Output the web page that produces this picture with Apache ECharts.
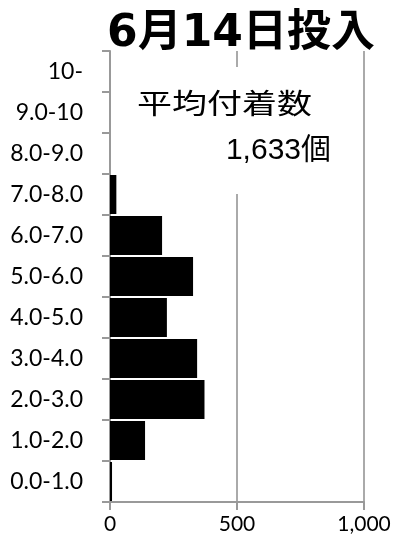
<!DOCTYPE html>
<html>
<head>
<meta charset="utf-8">
<script src="https://cdn.jsdelivr.net/npm/echarts@6/dist/echarts.min.js"></script>
<style>html,body{margin:0;padding:0;background:#fff;}#c{width:396px;height:548px;}</style>
</head>
<body>
<div id="c"></div>
<script>
const categories = ['0.0-1.0','1.0-2.0','2.0-3.0','3.0-4.0','4.0-5.0','5.0-6.0','6.0-7.0','7.0-8.0','8.0-9.0','9.0-10','10-'];
const counts = [8, 138, 372, 343, 224, 327, 205, 25, 0, 0, 0];
const xTicks = [0, 500, 1000];
const titleText = '6月14日投入';
const noteLine1 = '平均付着数';
const noteLine2 = '1,633個';

const chart = echarts.init(document.getElementById('c'), null, {renderer: 'canvas'});
chart.setOption({
  backgroundColor: '#fff',
  animation: false,
  title: {
    text: titleText,
    left: 236, top: 8, textAlign: 'center',
    textStyle: {fontFamily: 'DejaVu Sans, Noto Sans CJK JP', fontWeight: 'bold', fontSize: 44, color: '#000'}
  },
  grid: {left: 110, right: 32, top: 51, bottom: 46, containLabel: false},
  xAxis: {
    type: 'value', min: xTicks[0], max: xTicks[xTicks.length - 1], interval: 500,
    axisLine: {show: true, lineStyle: {color: '#999', width: 2}},
    axisTick: {show: true, length: 8, lineStyle: {color: '#999', width: 2}},
    axisLabel: {fontFamily: 'Lato', fontSize: 21, color: '#000', margin: 12,
      formatter: v => v.toLocaleString('en-US')},
    splitLine: {show: true, lineStyle: {color: '#aaa', width: 2}}
  },
  yAxis: {
    type: 'category', data: categories,
    axisLine: {show: true, lineStyle: {color: '#999', width: 2}},
    axisTick: {show: true, length: 8, lineStyle: {color: '#999', width: 2}},
    axisLabel: {fontFamily: 'Lato', fontSize: 23, color: '#000', margin: 27}
  },
  series: [{
    type: 'bar', data: counts, barCategoryGap: '5%',
    itemStyle: {color: '#000'}, z: 3
  }],
  graphic: [
    {type: 'rect', z: 1, shape: {x: 122, y: 67, width: 236, height: 127}, style: {fill: '#fff'}},
    {type: 'text', z: 2, x: 137, y: 89, scaleX: 1.25,
      style: {text: noteLine1, fontFamily: 'Noto Sans CJK JP', fontSize: 28, fill: '#000', textAlign: 'left', textVerticalAlign: 'top'}},
    {type: 'text', z: 2, x: 331, y: 136,
      style: {text: noteLine2, fontFamily: 'Liberation Sans, Noto Sans CJK JP', fontSize: 30, fill: '#000', textAlign: 'right', textVerticalAlign: 'top'}}
  ]
});
</script>
</body>
</html>
